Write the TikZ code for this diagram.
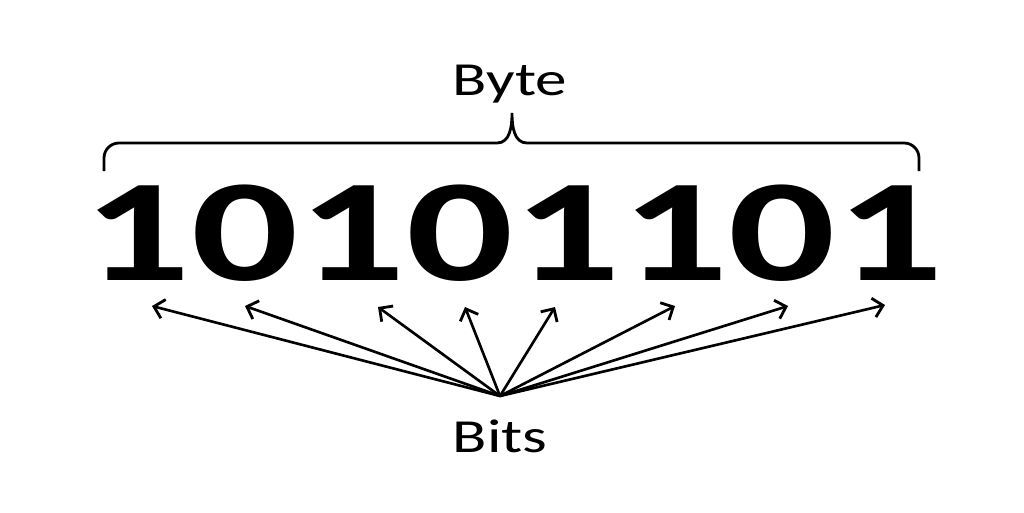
\documentclass[tikz,border=0pt]{standalone}
\usepackage{fontspec}
\setmainfont{Carlito}
\usetikzlibrary{arrows.meta}
\begin{document}
\begin{tikzpicture}[x=0.02cm,y=-0.02cm]
\tikzstyle{every node}+=[inner sep=0pt,anchor=base]
\tikzstyle{word}=[font=\fontsize{27}{30}\selectfont,xscale=1.33]
\tikzstyle{digit}=[font=\fontsize{83}{90}\selectfont\bfseries,xscale=1.45]
\tikzstyle{bitarrow}=[line width=1.5pt,-{Straight Barb[length=5.5pt,width=11pt,line width=1.6pt]}]
\useasboundingbox (0,0) rectangle (1024,512);
\fill [white] (0,0) rectangle (1024,512);
\node [word] (byte) at (510,95) {Byte};
\draw [black,line width=1.6pt] (104,171) -- (104,158) to[out=90,in=180] (119,143) -- (497,143) to[out=0,in=-90] (512,113) to[out=-90,in=180] (527,143) -- (904,143) to[out=0,in=90] (919,158) -- (919,171);
\node [digit] (d1) at (137.5,280) {1};
\node [digit] (d2) at (245,280) {0};
\node [digit] (d3) at (352.5,280) {1};
\node [digit] (d4) at (460,280) {0};
\node [digit] (d5) at (567.5,280) {1};
\node [digit] (d6) at (675,280) {1};
\node [digit] (d7) at (782.5,280) {0};
\node [digit] (d8) at (890,280) {1};
\coordinate (hub) at (500,396);
\coordinate (t1) at (152,306);
\coordinate (t2) at (245,306);
\coordinate (t3) at (378,307);
\coordinate (t4) at (465,307);
\coordinate (t5) at (555,307);
\coordinate (t6) at (675,306);
\coordinate (t7) at (788,306);
\coordinate (t8) at (885,305);
\draw [bitarrow] (hub) -- (t1);
\draw [bitarrow] (hub) -- (t2);
\draw [bitarrow] (hub) -- (t3);
\draw [bitarrow] (hub) -- (t4);
\draw [bitarrow] (hub) -- (t5);
\draw [bitarrow] (hub) -- (t6);
\draw [bitarrow] (hub) -- (t7);
\draw [bitarrow] (hub) -- (t8);
\node [word] (bits) at (500,452) {Bits};
\end{tikzpicture}
\end{document}
